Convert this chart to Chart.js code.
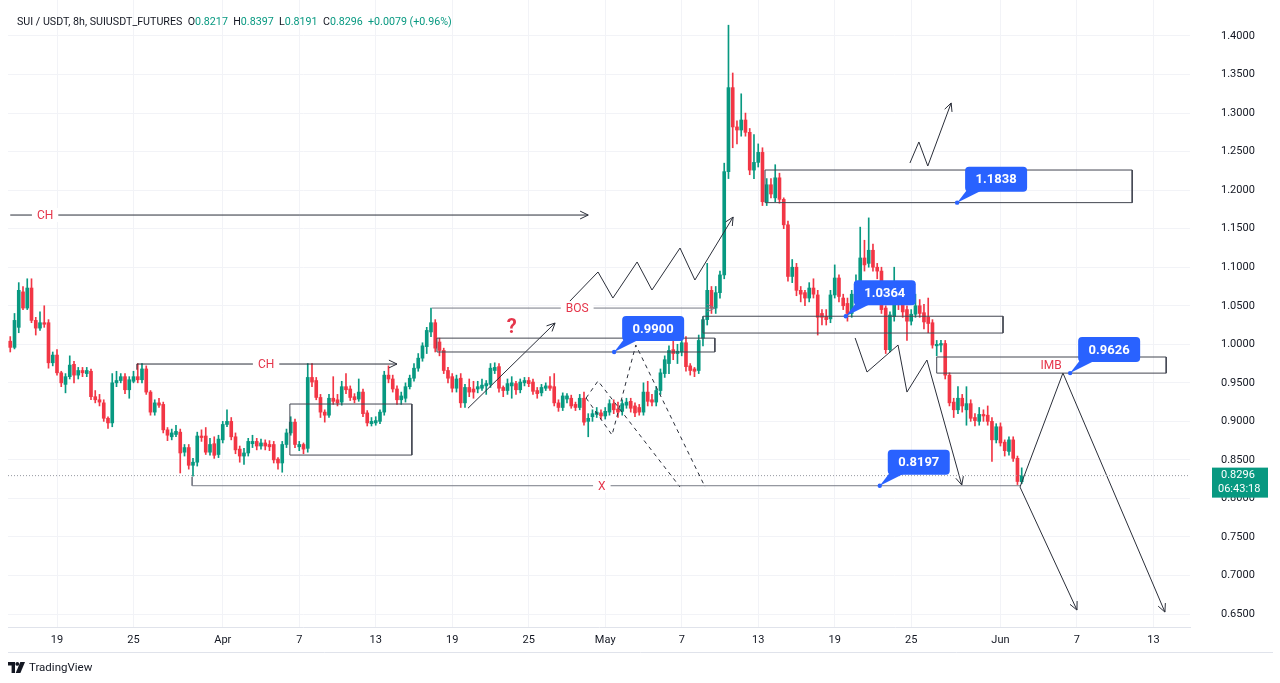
<!DOCTYPE html>
<html>
<head>
<meta charset="utf-8">
<script src="https://cdn.jsdelivr.net/npm/chart.js@4.4.1/dist/chart.umd.min.js"></script>
<style>
html,body{margin:0;padding:0;background:#fff;}
#wrap{position:relative;width:1280px;height:683px;overflow:hidden;}
#header{position:absolute;left:17px;top:15px;font:10.7px Roboto, sans-serif;color:#131722;white-space:pre;}
#header .g{color:#089981;}
#logo{position:absolute;left:8px;top:660px;font:11.5px Roboto, sans-serif;color:#131722;display:flex;align-items:center;gap:4px;}
</style>
</head>
<body>
<div id="wrap">
<canvas id="chart" width="1280" height="683"></canvas>
<div id="header">SUI / USDT, 8h, SUIUSDT_FUTURES  O<span class="g">0.8217</span>  H<span class="g">0.8397</span>  L<span class="g">0.8191</span>  C<span class="g">0.8296</span>  <span class="g">+0.0079 (+0.96%)</span></div>
<div id="logo"><svg width="17" height="11" viewBox="0 0 17 11"><path d="M0 0h7v11h-3.4v-7.4h-3.6z" fill="#131722"/><circle cx="9.3" cy="1.9" r="1.9" fill="#131722"/><path d="M12.3 0h4.7l-4.6 11h-4.7z" fill="#131722"/></svg><span>TradingView</span></div>
</div>
<script>
// candles: 8h, index 0 = Mar 19 00:00, first candle at index -11
const firstIdx = -11;
const open = [
  1.004, 0.996, 1.022, 1.068, 1.047, 1.073, 1.031, 1.021, 1.028, 1.028,
  0.976, 0.986, 0.963, 0.948, 0.958, 0.974, 0.960, 0.966, 0.962, 0.965,
  0.932, 0.928, 0.924, 0.904, 0.898, 0.950, 0.953, 0.958, 0.941, 0.952,
  0.958, 0.954, 0.968, 0.938, 0.912, 0.924, 0.922, 0.889, 0.880, 0.883,
  0.886, 0.860, 0.866, 0.843, 0.847, 0.881, 0.881, 0.860, 0.871, 0.857,
  0.876, 0.896, 0.900, 0.880, 0.864, 0.855, 0.859, 0.871, 0.874, 0.868,
  0.872, 0.870, 0.870, 0.851, 0.846, 0.870, 0.885, 0.899, 0.867, 0.870,
  0.865, 0.957, 0.953, 0.931, 0.912, 0.908, 0.930, 0.928, 0.925, 0.945,
  0.942, 0.932, 0.929, 0.938, 0.911, 0.897, 0.898, 0.900, 0.912, 0.960,
  0.955, 0.942, 0.928, 0.930, 0.945, 0.956, 0.969, 0.982, 0.997, 1.016,
  1.028, 1.003, 0.992, 0.966, 0.958, 0.943, 0.956, 0.924, 0.944, 0.942,
  0.942, 0.943, 0.946, 0.948, 0.966, 0.971, 0.944, 0.940, 0.946, 0.949,
  0.941, 0.950, 0.953, 0.951, 0.940, 0.937, 0.943, 0.946, 0.945, 0.924,
  0.918, 0.929, 0.930, 0.922, 0.918, 0.930, 0.900, 0.906, 0.909, 0.911,
  0.907, 0.912, 0.923, 0.916, 0.913, 0.921, 0.926, 0.920, 0.918, 0.912,
  0.938, 0.928, 0.925, 0.940, 0.962, 0.975, 0.993, 0.988, 0.990, 1.002,
  0.972, 0.968, 0.966, 1.008, 1.032, 1.070, 1.047, 1.067, 1.090, 1.224,
  1.333, 1.282, 1.278, 1.291, 1.275, 1.226, 1.236, 1.249, 1.185, 1.207,
  1.190, 1.216, 1.188, 1.155, 1.088, 1.100, 1.070, 1.067, 1.060, 1.073,
  1.064, 1.040, 1.036, 1.033, 1.064, 1.086, 1.060, 1.053, 1.040, 1.065,
  1.080, 1.112, 1.105, 1.122, 1.100, 1.095, 1.047, 0.993, 1.036, 1.066,
  1.053, 1.045, 1.030, 1.039, 1.050, 1.041, 1.035, 1.028, 0.998, 0.999,
  1.001, 0.960, 0.925, 0.915, 0.930, 0.915, 0.923, 0.905, 0.900, 0.909,
  0.908, 0.900, 0.876, 0.893, 0.873, 0.861, 0.876, 0.852, 0.8217
];
const high = [
  1.010, 1.040, 1.080, 1.075, 1.085, 1.085, 1.035, 1.042, 1.050, 1.032,
  0.990, 0.993, 0.965, 0.962, 0.985, 0.978, 0.970, 0.970, 0.970, 0.968,
  0.940, 0.935, 0.928, 0.906, 0.962, 0.965, 0.962, 0.962, 0.958, 0.965,
  0.975, 0.975, 0.972, 0.940, 0.928, 0.930, 0.925, 0.892, 0.890, 0.895,
  0.890, 0.870, 0.870, 0.852, 0.886, 0.889, 0.892, 0.878, 0.880, 0.882,
  0.900, 0.915, 0.905, 0.885, 0.868, 0.865, 0.878, 0.882, 0.878, 0.877,
  0.876, 0.875, 0.874, 0.853, 0.874, 0.890, 0.906, 0.903, 0.874, 0.872,
  0.975, 0.975, 0.957, 0.935, 0.915, 0.935, 0.958, 0.935, 0.952, 0.962,
  0.946, 0.936, 0.955, 0.942, 0.914, 0.905, 0.906, 0.915, 0.965, 0.972,
  0.960, 0.946, 0.938, 0.950, 0.960, 0.975, 0.988, 1.002, 1.022, 1.047,
  1.032, 1.008, 0.995, 0.970, 0.962, 0.960, 0.962, 0.948, 0.955, 0.952,
  0.952, 0.955, 0.953, 0.975, 0.976, 0.975, 0.946, 0.955, 0.958, 0.952,
  0.955, 0.957, 0.957, 0.955, 0.944, 0.948, 0.950, 0.958, 0.962, 0.928,
  0.937, 0.936, 0.934, 0.925, 0.935, 0.938, 0.910, 0.915, 0.918, 0.915,
  0.918, 0.928, 0.928, 0.925, 0.928, 0.930, 0.930, 0.924, 0.922, 0.950,
  0.952, 0.935, 0.945, 0.968, 0.985, 0.998, 1.025, 1.000, 1.010, 1.010,
  0.975, 0.970, 1.012, 1.036, 1.105, 1.075, 1.075, 1.095, 1.235, 1.414,
  1.352, 1.290, 1.325, 1.300, 1.280, 1.272, 1.260, 1.255, 1.215, 1.215,
  1.233, 1.222, 1.190, 1.160, 1.110, 1.105, 1.075, 1.070, 1.080, 1.085,
  1.070, 1.045, 1.045, 1.070, 1.103, 1.090, 1.065, 1.060, 1.070, 1.090,
  1.152, 1.135, 1.164, 1.130, 1.105, 1.100, 1.050, 1.042, 1.100, 1.075,
  1.058, 1.050, 1.045, 1.065, 1.058, 1.052, 1.060, 1.032, 1.005, 1.005,
  1.005, 0.963, 0.930, 0.945, 0.935, 0.945, 0.928, 0.910, 0.918, 0.915,
  0.920, 0.905, 0.897, 0.898, 0.876, 0.880, 0.880, 0.855, 0.8397
];
const low = [
  0.990, 0.994, 1.015, 1.045, 1.045, 1.028, 1.012, 1.018, 1.022, 0.969,
  0.972, 0.960, 0.945, 0.937, 0.955, 0.950, 0.955, 0.958, 0.958, 0.928,
  0.924, 0.920, 0.900, 0.891, 0.893, 0.945, 0.950, 0.936, 0.930, 0.950,
  0.950, 0.950, 0.935, 0.908, 0.908, 0.918, 0.885, 0.875, 0.876, 0.880,
  0.833, 0.855, 0.838, 0.829, 0.842, 0.874, 0.857, 0.856, 0.852, 0.853,
  0.872, 0.893, 0.876, 0.858, 0.847, 0.844, 0.855, 0.866, 0.863, 0.864,
  0.863, 0.862, 0.846, 0.838, 0.834, 0.866, 0.882, 0.866, 0.862, 0.858,
  0.860, 0.945, 0.928, 0.905, 0.899, 0.905, 0.922, 0.920, 0.921, 0.936,
  0.927, 0.924, 0.926, 0.906, 0.894, 0.894, 0.895, 0.897, 0.908, 0.950,
  0.938, 0.922, 0.922, 0.925, 0.942, 0.952, 0.965, 0.978, 0.988, 1.010,
  0.990, 0.985, 0.962, 0.950, 0.938, 0.938, 0.918, 0.918, 0.932, 0.930,
  0.937, 0.940, 0.935, 0.944, 0.962, 0.938, 0.932, 0.935, 0.930, 0.935,
  0.937, 0.946, 0.945, 0.935, 0.930, 0.933, 0.940, 0.940, 0.920, 0.913,
  0.914, 0.924, 0.917, 0.914, 0.915, 0.895, 0.880, 0.900, 0.905, 0.903,
  0.903, 0.908, 0.910, 0.905, 0.908, 0.917, 0.912, 0.906, 0.908, 0.908,
  0.920, 0.920, 0.920, 0.935, 0.957, 0.962, 0.980, 0.975, 0.985, 0.965,
  0.960, 0.958, 0.962, 0.998, 1.025, 1.040, 1.040, 1.060, 1.085, 1.215,
  1.255, 1.260, 1.270, 1.270, 1.220, 1.215, 1.230, 1.180, 1.180, 1.190,
  1.185, 1.183, 1.150, 1.082, 1.080, 1.063, 1.055, 1.050, 1.055, 1.060,
  1.012, 1.025, 1.025, 1.028, 1.060, 1.055, 1.045, 1.030, 1.035, 1.055,
  1.075, 1.095, 1.100, 1.095, 1.085, 1.040, 0.988, 0.990, 1.030, 1.045,
  1.035, 1.005, 1.025, 1.035, 1.035, 1.020, 1.015, 0.995, 0.985, 0.990,
  0.955, 0.920, 0.905, 0.910, 0.912, 0.895, 0.900, 0.894, 0.895, 0.900,
  0.895, 0.848, 0.872, 0.868, 0.855, 0.856, 0.848, 0.818, 0.8191
];
const close = [
  0.996, 1.031, 1.070, 1.047, 1.073, 1.031, 1.021, 1.028, 1.026, 0.976,
  0.986, 0.963, 0.950, 0.958, 0.973, 0.960, 0.966, 0.963, 0.966, 0.932,
  0.928, 0.925, 0.904, 0.898, 0.950, 0.953, 0.958, 0.941, 0.954, 0.958,
  0.954, 0.968, 0.938, 0.912, 0.924, 0.921, 0.889, 0.882, 0.885, 0.887,
  0.859, 0.866, 0.843, 0.847, 0.881, 0.879, 0.860, 0.870, 0.856, 0.877,
  0.896, 0.900, 0.880, 0.863, 0.855, 0.859, 0.874, 0.874, 0.868, 0.872,
  0.868, 0.867, 0.850, 0.846, 0.870, 0.885, 0.899, 0.870, 0.870, 0.864,
  0.957, 0.951, 0.931, 0.912, 0.908, 0.930, 0.926, 0.924, 0.945, 0.941,
  0.931, 0.928, 0.938, 0.910, 0.898, 0.900, 0.901, 0.912, 0.960, 0.955,
  0.942, 0.928, 0.933, 0.945, 0.956, 0.969, 0.982, 0.998, 1.018, 1.028,
  0.995, 0.992, 0.966, 0.956, 0.943, 0.955, 0.924, 0.944, 0.938, 0.938,
  0.945, 0.947, 0.949, 0.969, 0.970, 0.943, 0.940, 0.949, 0.950, 0.941,
  0.951, 0.953, 0.949, 0.939, 0.936, 0.944, 0.946, 0.943, 0.924, 0.918,
  0.933, 0.933, 0.920, 0.918, 0.930, 0.899, 0.904, 0.910, 0.912, 0.907,
  0.913, 0.923, 0.915, 0.912, 0.923, 0.925, 0.917, 0.911, 0.912, 0.938,
  0.926, 0.925, 0.940, 0.963, 0.980, 0.992, 0.988, 0.991, 1.002, 0.971,
  0.966, 0.965, 1.005, 1.032, 1.070, 1.047, 1.067, 1.090, 1.224, 1.333,
  1.282, 1.278, 1.291, 1.275, 1.226, 1.236, 1.249, 1.185, 1.207, 1.195,
  1.216, 1.188, 1.155, 1.088, 1.100, 1.070, 1.065, 1.060, 1.073, 1.065,
  1.035, 1.035, 1.032, 1.064, 1.086, 1.062, 1.050, 1.040, 1.065, 1.080,
  1.112, 1.103, 1.122, 1.100, 1.095, 1.045, 0.993, 1.038, 1.060, 1.053,
  1.042, 1.030, 1.039, 1.050, 1.040, 1.029, 1.027, 0.999, 1.000, 1.001,
  0.960, 0.924, 0.915, 0.930, 0.920, 0.923, 0.904, 0.901, 0.909, 0.907,
  0.900, 0.876, 0.893, 0.872, 0.862, 0.876, 0.852, 0.822, 0.8296
];

// axis ticks
const priceTicks = [0.65, 0.70, 0.75, 0.80, 0.85, 0.90, 0.95, 1.00, 1.05, 1.10, 1.15, 1.20, 1.25, 1.30, 1.35, 1.40];
const dateTickIdx = [0, 18, 39, 57, 75, 93, 111, 129, 147, 165, 183, 201, 222, 240, 258];
const dateTickLabels = ['19', '25', 'Apr', '7', '13', '19', '25', 'May', '7', '13', '19', '25', 'Jun', '7', '13'];

// drawings, [candle index, price]
const chTopLine = [[-11, 1.1677], [125, 1.1677]];
const chLowLine = [[18.8, 0.967], [18.8, 0.9744], [80, 0.9744]];
const bosLine = [[88.2, 1.047], [154.8, 1.047]];
const xLine = [[31.8, 0.828], [31.8, 0.8165], [226.6, 0.8165]];
const riseArrow = [[96.7, 0.917], [117.2, 1.0276]];
const pumpPath = [[119.1, 1.047], [127.3, 1.0938], [130.8, 1.060], [136.5, 1.1068], [140, 1.0704], [146.6, 1.1249], [150.1, 1.0834], [159.1, 1.1651]];
const dashA = [[124.5, 0.9303], [127.3, 0.9524], [146.6, 0.8148]];
const dashB = [[124.5, 0.9303], [130.6, 0.8823], [136.2, 0.999], [152.5, 0.8148]];
const dropPath = [[187.8, 1.0082], [190.6, 0.964], [197.9, 0.999], [200, 0.938], [204.7, 0.9796], [212.9, 0.8174]];
const upPath = [[200.7, 1.2352], [202.8, 1.2625], [204.9, 1.2313], [210.4, 1.3131]];
const projUp = [[226.6, 0.8148], [236.7, 0.9627], [260.7, 0.6526]];
const projDown = [[226.6, 0.8148], [240, 0.6552]];
// boxes: [fromIdx, toIdx, lowPrice, highPrice]
const boxes = [
  [89.4, 154.8, 0.990, 1.008],
  [152, 222.6, 1.0146, 1.0364],
  [166.6, 253, 1.1838, 1.2261],
  [207, 261, 0.9626, 0.9835],
  [54.8, 83.5, 0.8563, 0.9225]
];
const notes = [
  {t: 'CH', x: -2.8, y: 1.1677},
  {t: 'CH', x: 49.2, y: 0.9744},
  {t: 'BOS', x: 122.4, y: 1.047},
  {t: 'X', x: 128.2, y: 0.8165},
  {t: 'IMB', x: 233.9, y: 0.973, nobg: true},
  {t: '?', x: 107, y: 1.0224, big: true}
];
const callouts = [
  {t: '0.9900', x: 131.1, y: 0.990},
  {t: '1.0364', x: 185.6, y: 1.0364},
  {t: '1.1838', x: 211.8, y: 1.1838},
  {t: '0.9626', x: 238.4, y: 0.9626},
  {t: '0.8197', x: 193.6, y: 0.8165}
];

const upColor = '#089981', downColor = '#F23645';
const lastClose = close[close.length - 1];
const xMin = -11.53, xMax = 266.6;

let colors = close.map((c, i) => c >= open[i] ? upColor : downColor);
let wickData = low.map((l, i) => ({x: firstIdx + i, y: [l, high[i]]}));
let bodyData = open.map((o, i) => ({x: firstIdx + i, y: [Math.min(o, close[i]), Math.max(o, close[i])]}));

function lineDs(pts, opts) {
  opts = opts || {};
  return {
    type: 'line',
    data: pts.map(p => ({x: p[0], y: p[1]})),
    borderColor: opts.color || '#2A2E39',
    borderWidth: 1,
    borderDash: opts.dash || [],
    pointRadius: 0,
    fill: false,
    tension: 0,
    order: 0,
    arrow: !!opts.arrow
  };
}

let datasets = [
  {type: 'bar', data: wickData, backgroundColor: colors, barThickness: 1, grouped: false, order: 3},
  {type: 'bar', data: bodyData, backgroundColor: colors, barThickness: 3, minBarLength: 1, grouped: false, order: 2},
  lineDs([[xMin, lastClose], [xMax, lastClose]], {color: '#9598A1', dash: [1, 2]})
];
boxes.forEach(b => {
  datasets.push(lineDs([[b[0], b[3]], [b[1], b[3]], [b[1], b[2]], [b[0], b[2]], [b[0], b[3]]], {color: '#434651'}));
});
datasets.push(lineDs(chTopLine, {arrow: true}));
datasets.push(lineDs(chLowLine, {arrow: true}));
datasets.push(lineDs(bosLine, {arrow: true, color: '#787B86'}));
datasets.push(lineDs(xLine, {color: '#787B86'}));
datasets.push(lineDs(riseArrow, {arrow: true}));
datasets.push(lineDs(pumpPath, {arrow: true}));
datasets.push(lineDs(dashA, {dash: [4, 4]}));
datasets.push(lineDs(dashB, {dash: [4, 4]}));
datasets.push(lineDs(dropPath, {arrow: true}));
datasets.push(lineDs(upPath, {arrow: true}));
datasets.push(lineDs(projUp, {arrow: true}));
datasets.push(lineDs(projDown, {arrow: true}));

// arrow heads on the last segment of a drawing
const arrowPlugin = {
  id: 'arrows',
  afterDatasetsDraw(chart) {
    const ctx = chart.ctx;
    chart.data.datasets.forEach((ds, i) => {
      if (!ds.arrow) return;
      const pts = chart.getDatasetMeta(i).data;
      const a = pts[pts.length - 2], b = pts[pts.length - 1];
      const ang = Math.atan2(b.y - a.y, b.x - a.x);
      ctx.save();
      ctx.strokeStyle = ds.borderColor;
      ctx.lineWidth = 1;
      ctx.beginPath();
      ctx.moveTo(b.x - 9 * Math.cos(ang - 0.45), b.y - 9 * Math.sin(ang - 0.45));
      ctx.lineTo(b.x, b.y);
      ctx.lineTo(b.x - 9 * Math.cos(ang + 0.45), b.y - 9 * Math.sin(ang + 0.45));
      ctx.stroke();
      ctx.restore();
    });
  }
};

// text notes and blue price callouts
const notesPlugin = {
  id: 'notes',
  afterDatasetsDraw(chart) {
    const ctx = chart.ctx, xs = chart.scales.x, ys = chart.scales.y;
    ctx.save();
    notes.forEach(n => {
      const px = xs.getPixelForValue(n.x), py = ys.getPixelForValue(n.y);
      ctx.font = n.big ? 'bold 20px Roboto, sans-serif' : '12px Roboto, sans-serif';
      const w = ctx.measureText(n.t).width;
      if (!n.nobg && !n.big) {
        ctx.fillStyle = '#ffffff';
        ctx.fillRect(px - w / 2 - 5, py - 7, w + 10, 14);
      }
      ctx.fillStyle = '#E5364B';
      ctx.textAlign = 'center';
      ctx.textBaseline = 'middle';
      ctx.fillText(n.t, px, py + 1);
    });
    callouts.forEach(c => {
      const px = xs.getPixelForValue(c.x), py = ys.getPixelForValue(c.y);
      const bx = px + 8, by = py - 36, bw = 62, bh = 25;
      ctx.fillStyle = '#2962FF';
      ctx.beginPath();
      ctx.roundRect(bx, by, bw, bh, 4);
      ctx.fill();
      ctx.beginPath();
      ctx.moveTo(bx + 2, by + bh - 2);
      ctx.lineTo(px, py);
      ctx.lineTo(bx + 16, by + bh - 1);
      ctx.closePath();
      ctx.fill();
      ctx.beginPath();
      ctx.arc(px, py, 2.2, 0, Math.PI * 2);
      ctx.fill();
      ctx.fillStyle = '#ffffff';
      ctx.font = 'bold 13px Roboto, sans-serif';
      ctx.textAlign = 'center';
      ctx.textBaseline = 'middle';
      ctx.fillText(c.t, bx + bw / 2, by + bh / 2 + 1);
    });
    ctx.restore();
  },
  afterDraw(chart) {
    const ctx = chart.ctx, ys = chart.scales.y, xs = chart.scales.x;
    ctx.save();
    // lower edge of the time scale
    ctx.strokeStyle = '#E0E3EB';
    ctx.lineWidth = 1;
    ctx.beginPath();
    ctx.moveTo(xs.left, xs.top + 25.5);
    ctx.lineTo(chart.width - 7, xs.top + 25.5);
    ctx.stroke();
    // last price tag on the price scale
    const py = ys.getPixelForValue(lastClose);
    ctx.fillStyle = upColor;
    ctx.fillRect(ys.left + 22, py - 8, 56, 30);
    ctx.fillStyle = '#ffffff';
    ctx.font = '11px Roboto, sans-serif';
    ctx.textAlign = 'left';
    ctx.textBaseline = 'middle';
    ctx.fillText(lastClose.toFixed(4), ys.left + 31, py);
    ctx.fillText('06:43:18', ys.left + 28, py + 14);
    ctx.restore();
  }
};

const config = {
  type: 'bar',
  data: {datasets: datasets},
  options: {
    responsive: false,
    animation: false,
    events: [],
    layout: {padding: {left: 8, top: 0, right: 0, bottom: 0}},
    plugins: {legend: {display: false}, tooltip: {enabled: false}},
    scales: {
      x: {
        type: 'linear',
        min: xMin,
        max: xMax,
        offset: false,
        grid: {color: '#F2F3F7', drawTicks: false, offset: false},
        border: {display: true, color: '#E0E3EB'},
        ticks: {
          color: '#131722',
          font: {family: 'Roboto', size: 11},
          padding: 7,
          autoSkip: false,
          maxRotation: 0,
          minRotation: 0,
          callback: (v, i) => dateTickLabels[i]
        },
        afterBuildTicks: s => { s.ticks = dateTickIdx.map(v => ({value: v})); },
        afterFit: s => { s.height = 56; s.paddingLeft = 0; s.paddingRight = 0; }
      },
      y: {
        type: 'linear',
        position: 'right',
        min: 0.6332,
        max: 1.4467,
        grid: {color: '#F2F3F7', drawTicks: false},
        border: {display: false},
        ticks: {
          color: '#131722',
          font: {family: 'Roboto', size: 11},
          padding: 31,
          callback: v => v.toFixed(4)
        },
        afterBuildTicks: s => { s.ticks = priceTicks.map(v => ({value: v})); },
        afterFit: s => { s.width = 90; s.paddingTop = 0; s.paddingBottom = 0; }
      }
    }
  },
  plugins: [arrowPlugin, notesPlugin]
};

const myChart = new Chart(document.getElementById('chart'), config);
</script>
</body>
</html>
